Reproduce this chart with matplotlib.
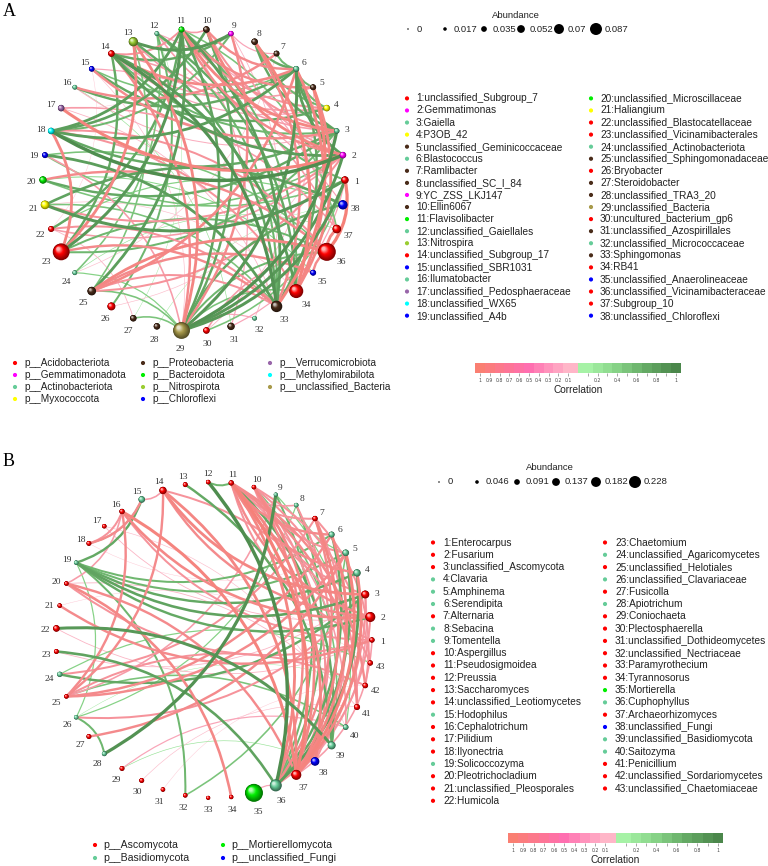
import numpy as np
import matplotlib
matplotlib.use("Agg")
import matplotlib.pyplot as plt
from matplotlib.path import Path
from matplotlib.patches import PathPatch, Circle
from matplotlib.colors import to_rgb

W, H, DPI = 768, 866, 100
SANS = "Liberation Sans"
SERIF = "Liberation Serif"

# ---------------- panel A : bacteria ----------------
phyla_a = ["p__Acidobacteriota", "p__Gemmatimonadota", "p__Actinobacteriota", "p__Myxococcota",
           "p__Proteobacteria", "p__Bacteroidota", "p__Nitrospirota", "p__Chloroflexi",
           "p__Verrucomicrobiota", "p__Methylomirabilota", "p__unclassified_Bacteria"]
phyla_a_colors = ["#ff0000", "#ff00ff", "#66cc99", "#ffff00", "#4a2c1a", "#00ee00",
                  "#9acd32", "#0000ff", "#9966aa", "#00ffff", "#a89a4a"]

genera_a = ["unclassified_Subgroup_7", "Gemmatimonas", "Gaiella", "P3OB_42", "unclassified_Geminicoccaceae",
            "Blastococcus", "Ramlibacter", "unclassified_SC_I_84", "YC_ZSS_LKJ147", "Ellin6067",
            "Flavisolibacter", "unclassified_Gaiellales", "Nitrospira", "unclassified_Subgroup_17",
            "unclassified_SBR1031", "Ilumatobacter", "unclassified_Pedosphaeraceae", "unclassified_WX65",
            "unclassified_A4b", "unclassified_Microscillaceae", "Haliangium", "unclassified_Blastocatellaceae",
            "unclassified_Vicinamibacterales", "unclassified_Actinobacteriota", "unclassified_Sphingomonadaceae",
            "Bryobacter", "Steroidobacter", "unclassified_TRA3_20", "unclassified_Bacteria",
            "uncultured_bacterium_gp6", "unclassified_Azospirillales", "unclassified_Micrococcaceae",
            "Sphingomonas", "RB41", "unclassified_Anaerolineaceae", "unclassified_Vicinamibacteraceae",
            "Subgroup_10", "unclassified_Chloroflexi"]
phylum_of_a = [0, 1, 2, 3, 4, 2, 4, 4, 1, 4, 5, 2, 6, 0, 7, 2, 8, 9, 7, 5,
               3, 0, 0, 2, 4, 0, 4, 4, 10, 0, 4, 2, 4, 0, 7, 0, 0, 7]
abund_a = [0.021, 0.016, 0.009, 0.016, 0.012, 0.012, 0.012, 0.016, 0.009, 0.016,
           0.012, 0.005, 0.033, 0.016, 0.010, 0.005, 0.016, 0.016, 0.012, 0.021,
           0.029, 0.012, 0.080, 0.005, 0.029, 0.025, 0.016, 0.016, 0.080, 0.016,
           0.021, 0.005, 0.046, 0.062, 0.012, 0.087, 0.029, 0.033]
abund_keys_a = [0, 0.017, 0.035, 0.052, 0.07, 0.087]

# (node, node, correlation)
edges_a = [
    (2, 18, -0.95), (11, 18, -0.8), (10, 18, -0.75), (6, 18, -0.8), (3, 18, -0.7), (9, 18, -0.6),
    (19, 33, -0.8), (1, 19, -0.5), (3, 20, -0.7), (2, 20, -0.5), (1, 21, -0.85), (21, 38, -0.75),
    (11, 22, -0.7), (11, 23, -0.85), (14, 23, -0.7), (23, 36, -0.6), (3, 23, -0.6), (12, 24, -0.5),
    (11, 25, -0.8), (13, 25, -0.5), (12, 26, -0.6), (27, 29, -0.5), (1, 29, -0.85), (2, 29, -0.85),
    (3, 29, -0.9), (6, 29, -0.85), (10, 29, -0.7), (11, 29, -0.75), (29, 38, -0.7), (29, 36, -0.6),
    (29, 34, -0.5), (25, 29, -0.5), (24, 29, -0.4), (14, 33, -0.9), (11, 33, -0.8), (13, 33, -0.7),
    (6, 33, -0.7), (12, 33, -0.6), (21, 33, -0.5), (14, 34, -0.8), (11, 34, -0.6), (19, 36, -0.5),
    (2, 6, -0.8), (3, 6, -0.75), (4, 6, -0.6), (5, 6, -0.6), (6, 8, -0.7), (6, 7, -0.6),
    (6, 16, -0.7), (6, 15, -0.5), (3, 8, -0.7), (4, 8, -0.6), (9, 13, -0.85), (9, 14, -0.7),
    (2, 14, -0.8), (3, 14, -0.6), (4, 15, -0.7), (1, 10, -0.6), (12, 34, -0.7), (11, 37, -0.5),
    (1, 30, -0.5), (22, 38, -0.4), (20, 35, -0.35), (16, 31, -0.25), (24, 37, -0.25),
    (12, 27, -0.2), (28, 38, -0.2),
    (1, 36, 0.9), (36, 37, 0.8), (35, 36, 0.7), (25, 35, 0.7), (25, 36, 0.8), (18, 36, 0.6),
    (20, 36, 0.7), (17, 37, 0.5), (2, 17, 0.85), (2, 10, 0.8), (2, 11, 0.7), (2, 9, 0.5),
    (2, 21, 0.6), (3, 11, 0.8), (3, 10, 0.6), (3, 12, 0.5), (3, 15, 0.7), (4, 13, 0.5),
    (4, 11, 0.6), (5, 11, 0.7), (5, 33, 0.85), (5, 34, 0.8), (5, 14, 0.5), (6, 10, 0.7),
    (6, 14, 0.75), (6, 25, 0.75), (6, 34, 0.8), (7, 16, 0.7), (7, 9, 0.4), (8, 34, 0.85),
    (8, 33, 0.7), (9, 29, 0.7), (10, 11, 0.5), (11, 14, 0.6), (11, 31, 0.4), (13, 23, 0.8),
    (14, 37, 0.5), (4, 14, 0.4), (18, 23, 0.8), (18, 34, 0.6), (19, 29, 0.5), (2, 22, 0.5),
    (22, 33, 0.6), (23, 33, 0.7), (25, 33, 0.6), (2, 25, 0.6), (14, 29, 0.7), (13, 29, 0.8),
    (29, 32, 0.4), (30, 36, 0.5), (1, 31, 0.4), (12, 37, 0.4), (15, 38, 0.4), (16, 3, 0.35),
    (15, 29, 0.25), (17, 33, 0.3), (21, 34, 0.25), (22, 27, 0.3), (9, 32, 0.3), (7, 24, 0.25),
    (3, 26, 0.25), (9, 17, 0.2), (15, 22, 0.2), (5, 30, 0.3),
]

# ---------------- panel B : fungi ----------------
phyla_b = ["p__Ascomycota", "p__Basidiomycota", "p__Mortierellomycota", "p__unclassified_Fungi"]
phyla_b_colors = ["#ff0000", "#66cc99", "#00ee00", "#0000ff"]

genera_b = ["Enterocarpus", "Fusarium", "unclassified_Ascomycota", "Clavaria", "Amphinema", "Serendipita",
            "Alternaria", "Sebacina", "Tomentella", "Aspergillus", "Pseudosigmoidea", "Preussia",
            "Saccharomyces", "unclassified_Leotiomycetes", "Hodophilus", "Cephalotrichum", "Pilidium",
            "Ilyonectria", "Solicoccozyma", "Pleotrichocladium", "unclassified_Pleosporales", "Humicola",
            "Chaetomium", "unclassified_Agaricomycetes", "unclassified_Helotiales", "unclassified_Clavariaceae",
            "Fusicolla", "Apiotrichum", "Coniochaeta", "Plectosphaerella", "unclassified_Dothideomycetes",
            "unclassified_Nectriaceae", "Paramyrothecium", "Tyrannosorus", "Mortierella", "Cuphophyllus",
            "Archaeorhizomyces", "unclassified_Fungi", "unclassified_Basidiomycota", "Saitozyma",
            "Penicillium", "unclassified_Sordariomycetes", "unclassified_Chaetomiaceae"]
phylum_of_b = [0, 0, 0, 1, 1, 1, 0, 1, 1, 0, 0, 0, 0, 0, 1, 0, 0, 0, 1, 0, 0, 0,
               0, 1, 0, 1, 0, 1, 0, 0, 0, 0, 0, 0, 2, 1, 0, 3, 1, 1, 0, 0, 0]
abund_b = [0.023, 0.098, 0.065, 0.055, 0.043, 0.033, 0.023, 0.010, 0.003, 0.010,
           0.023, 0.010, 0.016, 0.055, 0.043, 0.023, 0.010, 0.016, 0.010, 0.010,
           0.010, 0.043, 0.016, 0.023, 0.010, 0.010, 0.016, 0.016, 0.016, 0.016,
           0.010, 0.010, 0.003, 0.007, 0.228, 0.130, 0.098, 0.075, 0.065, 0.026,
           0.033, 0.026, 0.023]
abund_keys_b = [0, 0.046, 0.091, 0.137, 0.182, 0.228]

edges_b = [
    (12, 36, -0.95), (11, 12, -0.6), (11, 39, -0.7), (13, 39, -0.7), (15, 19, -0.7), (15, 18, -0.5),
    (3, 19, -0.75), (2, 19, -0.7), (4, 19, -0.7), (5, 19, -0.6), (6, 19, -0.6), (19, 32, -0.6),
    (19, 26, -0.4), (22, 39, -0.85), (23, 36, -0.75), (3, 24, -0.7), (24, 43, -0.4), (25, 40, -0.5),
    (26, 28, -0.6), (8, 26, -0.4), (9, 28, -0.9), (5, 32, -0.5), (4, 36, -0.8), (5, 36, -0.7),
    (6, 36, -0.7), (8, 36, -0.6), (9, 36, -0.6), (10, 39, -0.5), (5, 8, -0.4), (9, 40, -0.4),
    (10, 38, -0.3), (26, 42, -0.2), (29, 38, -0.25),
    (3, 14, 0.8), (2, 14, 0.7), (14, 37, 0.8), (14, 15, 0.5), (14, 25, 0.7), (14, 43, 0.6),
    (16, 37, 0.85), (2, 16, 0.75), (16, 25, 0.7), (1, 16, 0.6), (16, 18, 0.6), (2, 17, 0.3),
    (15, 18, 0.7), (16, 20, 0.5), (20, 37, 0.7), (1, 20, 0.6), (1, 21, 0.7), (6, 25, 0.7),
    (5, 25, 0.7), (9, 25, 0.5), (3, 26, 0.6), (5, 27, 0.7), (7, 24, 0.6), (29, 40, 0.4),
    (20, 34, 0.75), (4, 37, 0.8), (5, 37, 0.85), (6, 37, 0.8), (7, 37, 0.8), (10, 37, 0.75),
    (11, 37, 0.9), (8, 37, 0.6), (3, 37, 0.5), (11, 38, 0.8), (7, 38, 0.6), (10, 38, 0.6),
    (11, 36, 0.8), (10, 36, 0.7), (7, 36, 0.7), (11, 41, 0.7), (10, 41, 0.6), (11, 42, 0.7),
    (7, 42, 0.6), (25, 42, 0.6), (10, 43, 0.6), (11, 40, 0.5), (1, 11, 0.6), (2, 11, 0.7),
    (3, 10, 0.6), (4, 11, 0.7), (5, 10, 0.6), (6, 11, 0.7), (7, 11, 0.6), (8, 11, 0.5),
    (1, 37, 0.5), (2, 36, 0.6), (3, 36, 0.6), (35, 36, 0.4), (1, 22, 0.3), (3, 23, 0.3),
    (30, 41, 0.25), (31, 42, 0.2), (20, 41, 0.3), (17, 40, 0.25), (21, 43, 0.2), (5, 18, 0.2),
]

CURV = 0.25
# colour stops for |r| on the positive (red) and negative (green) side
POS_STOPS = [(0.1, "#ffd3dd"), (0.4, "#f9a5b8"), (0.7, "#f48a8c"), (1.0, "#f57d70")]
NEG_STOPS = [(0.1, "#a6f2a6"), (0.4, "#86d286"), (0.7, "#64a964"), (1.0, "#4b874b")]
BAR_POS = [(0.1, "#ffb6c8"), (0.5, "#ff6fb0"), (1.0, "#fa7f72")]


def blend(stops, a):
    a = min(max(a, stops[0][0]), stops[-1][0])
    for (v0, c0), (v1, c1) in zip(stops[:-1], stops[1:]):
        if a <= v1:
            t = (a - v0) / (v1 - v0)
            return tuple(np.array(to_rgb(c0)) * (1 - t) + np.array(to_rgb(c1)) * t)
    return to_rgb(stops[-1][1])


def corr_color(r):
    return blend(POS_STOPS if r > 0 else NEG_STOPS, abs(r))


def edge_width(r):
    return 0.3 + 2.3 * max(abs(r) - 0.2, 0) / 0.8


def node_radius_px(a, amax):
    return 2.0 + 7.0 * a / amax


def panel_axes(fig, cx, cy, R, x0, x1, y0, y1):
    ax = fig.add_axes([x0 / W, 1 - y1 / H, (x1 - x0) / W, (y1 - y0) / H])
    ax.set_xlim((x0 - cx) / R, (x1 - cx) / R)
    ax.set_ylim((cy - y1) / R, (cy - y0) / R)
    ax.axis("off")
    return ax


def draw_node(ax, x, y, rad, color):
    base = np.array(to_rgb(color))
    dark = base * 0.5
    light = base + (1 - base) * 0.7
    n = 12
    for k in range(n):
        f = k / (n - 1)
        rr = rad * (1 - 0.8 * f)
        off = 0.35 * rad * f
        if f < 0.6:
            c = dark + (base - dark) * (f / 0.6)
        else:
            c = base + (light - base) * ((f - 0.6) / 0.4)
        ax.add_patch(Circle((x - off, y + off), rr, fc=c, ec="none", zorder=10))


def draw_network(ax, R, abund, phylum_of, colors, edges):
    n = len(abund)
    theta = 2 * np.pi * np.arange(n) / n
    pos = np.column_stack([np.cos(theta), np.sin(theta)])
    amax = max(abund)
    for i, j, r in sorted(edges, key=lambda e: abs(e[2])):
        p, q = pos[i - 1], pos[j - 1]
        if i > j:
            p, q = q, p
        d = q - p
        ctrl = (p + q) / 2 + CURV * np.array([-d[1], d[0]])
        path = Path([p, ctrl, q], [Path.MOVETO, Path.CURVE3, Path.CURVE3])
        ax.add_patch(PathPatch(path, fc="none", ec=corr_color(r), lw=edge_width(r),
                               capstyle="round", zorder=1 + abs(r)))
    for k in range(n):
        rad = node_radius_px(abund[k], amax)
        draw_node(ax, pos[k, 0], pos[k, 1], rad / R, colors[phylum_of[k]])
        lr = 1 + (rad + 8) / R
        ax.text(lr * np.cos(theta[k]), lr * np.sin(theta[k]) - 2.5 / R, str(k + 1),
                ha="center", va="center", fontsize=6.8, family=SERIF, color="#333333")


def dot_legend(ov, labels, colors, xs, y0, pitch, per_col, dx, fs):
    for k, (lab, c) in enumerate(zip(labels, colors)):
        col, row = divmod(k, per_col)
        y = y0 + row * pitch
        ov.scatter([xs[col]], [y], s=9, color=c, edgecolors="none")
        ov.text(xs[col] + dx, y, lab, ha="left", va="center", fontsize=fs, family=SANS, color="#222222")


def size_legend(ov, keys, xs, y, title, title_xy, dx):
    kmax = max(keys)
    for k, x in zip(keys, xs):
        d = 1.5 + 10.5 * k / kmax
        ov.scatter([x], [y], s=(d * 0.72) ** 2, color="black", edgecolors="none")
        ov.text(x + dx, y, f"{k:g}", ha="left", va="center", fontsize=6.8, family=SANS, color="#222222")
    ov.text(title_xy[0], title_xy[1], title, ha="center", va="center", fontsize=6.8, family=SANS,
            color="#222222")


def corr_bar(fig, x0, x1, y0, y1):
    ax = fig.add_axes([x0 / W, 1 - y1 / H, (x1 - x0) / W, (y1 - y0) / H])
    xe = np.round(np.r_[np.arange(-1.05, 0, 0.1), 0, np.arange(0.05, 1.1, 0.1)], 3)
    centers = (xe[:-1] + xe[1:]) / 2
    for a, b, c in zip(xe[:-1], xe[1:], centers):
        col = blend(BAR_POS, -c) if c < 0 else blend(NEG_STOPS, max(c, 0.1))
        ax.axvspan(a, b, color=col, lw=0)
    ax.set_xlim(xe[0], xe[-1])
    ax.set_ylim(0, 1)
    ax.set_yticks([])
    for s in ax.spines.values():
        s.set_visible(False)
    left = [-1, -0.9, -0.8, -0.7, -0.6, -0.5, -0.4, -0.3, -0.2, -0.1]
    right = [0.2, 0.4, 0.6, 0.8, 1.0]
    ax.set_xticks(left + right)
    ax.set_xticklabels([f"{abs(v):g}" for v in left + right])
    ax.set_xticks([0.1, 0.3, 0.5, 0.7, 0.9], minor=True)
    ax.tick_params(axis="x", which="both", length=2, width=0.4, color="#666666", pad=1.5,
                   labelsize=3.3, labelcolor="#444444")
    ax.set_xlabel("Correlation", fontsize=7.3, family=SANS, color="#222222", labelpad=1.5)
    return ax


fig = plt.figure(figsize=(W / DPI, H / DPI), dpi=DPI)
ov = fig.add_axes([0, 0, 1, 1])
ov.set_xlim(0, W)
ov.set_ylim(H, 0)
ov.axis("off")

# panel A
RA = 151
axA = panel_axes(fig, 194, 180, RA, 13, 376, 0, 352)
draw_network(axA, RA, abund_a, phylum_of_a, phyla_a_colors, edges_a)
ov.text(3, 3, "A", ha="left", va="top", fontsize=13, family=SERIF)
dot_legend(ov, [f"{i + 1}:{g}" for i, g in enumerate(genera_a)],
           [phyla_a_colors[p] for p in phylum_of_a], [407, 591], 98.4, 12.07, 19, 9, 7.3)
dot_legend(ov, phyla_a, phyla_a_colors, [15, 143, 270], 363, 12, 4, 9, 7.2)
size_legend(ov, abund_keys_a, [408, 445, 484, 521, 559, 596], 29, "Abundance", (516, 16), 8.5)
corr_bar(fig, 475, 681, 363, 373)

# panel B
RB = 158
axB = panel_axes(fig, 214, 640, RB, 10, 425, 455, 828)
draw_network(axB, RB, abund_b, phylum_of_b, phyla_b_colors, edges_b)
ov.text(3, 453, "B", ha="left", va="top", fontsize=13, family=SERIF)
dot_legend(ov, [f"{i + 1}:{g}" for i, g in enumerate(genera_b)],
           [phyla_b_colors[p] for p in phylum_of_b], [433, 605], 542.5, 12.3, 22, 10, 7.3)
dot_legend(ov, phyla_b, phyla_b_colors, [95, 223], 845, 13, 2, 8, 7.6)
size_legend(ov, abund_keys_b, [439, 477, 517, 556, 596, 635], 482, "Abundance", (550, 468), 9)
corr_bar(fig, 508, 723, 833, 843)

fig.savefig("out.png", dpi=DPI)
